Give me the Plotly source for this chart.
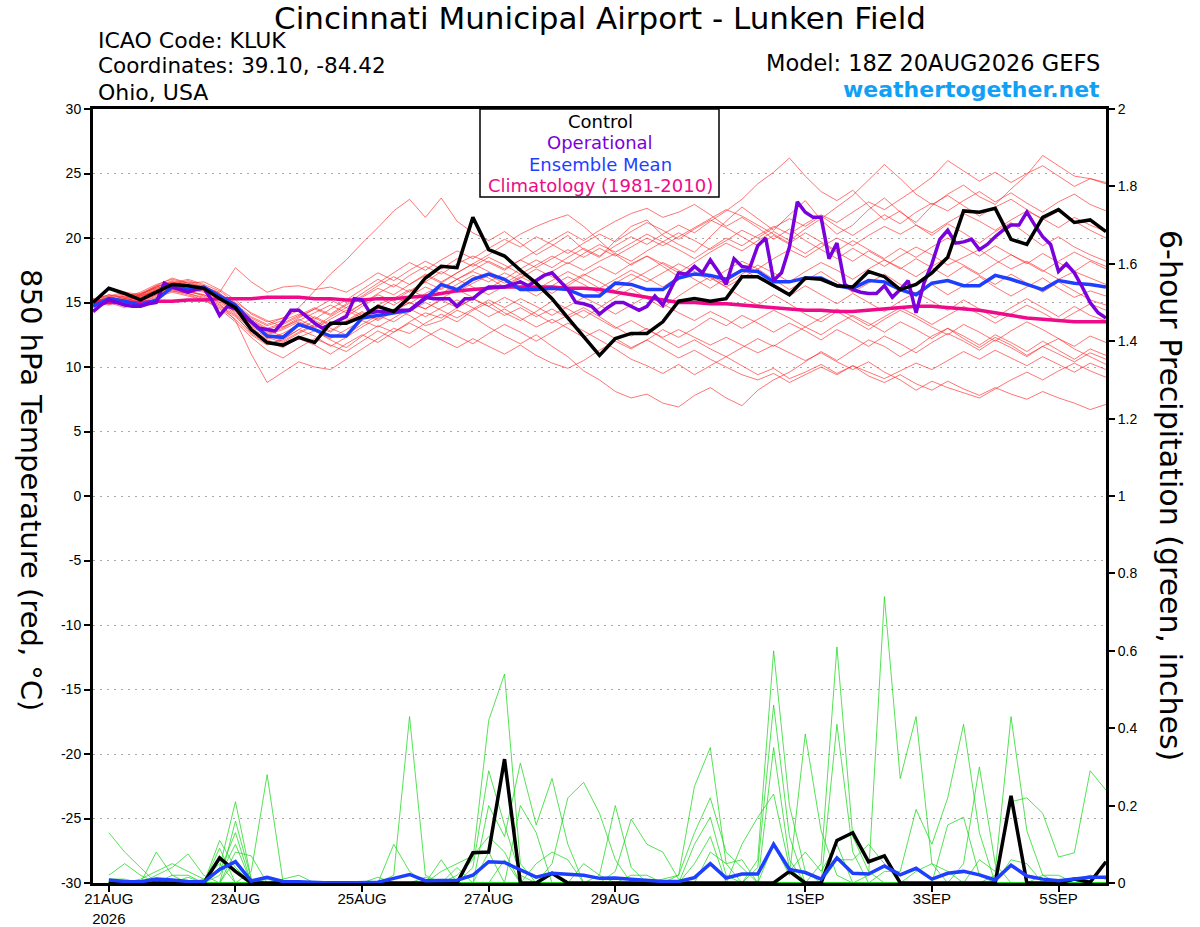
"""GEFS 850 hPa temperature / 6-hour precipitation plume for KLUK."""

import pandas as pd
import plotly.graph_objects as go

RUN_START = "2026-08-20 18:00"

# ---- 850 hPa temperature (degC), 6-hourly from 18Z 20 Aug ----
control_t = [
    15.0, 16.1, 15.7, 15.2, 15.8, 16.4, 16.3, 16.1, 15.3, 14.6,
    12.9, 11.9, 11.7, 12.3, 11.9, 13.4, 13.4, 13.9, 14.7, 14.3,
    15.4, 16.9, 17.8, 17.7, 21.6, 19.1, 18.6, 17.5, 16.5, 15.3,
    13.8, 12.4, 10.9, 12.2, 12.6, 12.6, 13.5, 15.1, 15.3, 15.1,
    15.3, 17.0, 17.0, 16.3, 15.6, 16.9, 16.8, 16.3, 16.2, 17.4,
    17.0, 16.0, 16.4, 17.3, 18.5, 22.1, 22.0, 22.3, 19.9, 19.5,
    21.6, 22.2, 21.2, 21.4, 20.5,
]
mean_t = [
    14.7, 15.3, 15.1, 14.8, 15.2, 16.2, 16.0, 16.2, 15.5, 14.8,
    13.5, 12.4, 12.3, 13.3, 12.9, 12.4, 12.4, 13.8, 14.0, 14.2,
    14.4, 15.3, 16.4, 16.0, 16.8, 17.2, 16.8, 16.0, 16.0, 16.1,
    16.0, 15.5, 15.5, 16.5, 16.4, 16.0, 16.0, 16.9, 17.2, 17.1,
    16.8, 17.5, 17.4, 16.6, 16.6, 16.9, 16.9, 16.3, 16.1, 16.7,
    16.6, 16.0, 15.6, 16.5, 16.7, 16.3, 16.3, 17.1, 16.8, 16.4,
    16.0, 16.7, 16.5, 16.4, 16.2,
]
clim_t = [
    15.0, 15.0, 15.0, 15.0, 15.1, 15.1, 15.2, 15.2, 15.3, 15.3,
    15.3, 15.4, 15.4, 15.4, 15.3, 15.3, 15.2, 15.2, 15.3, 15.3,
    15.4, 15.5, 15.7, 15.9, 16.0, 16.1, 16.2, 16.2, 16.2, 16.2,
    16.1, 16.1, 16.0, 15.8, 15.6, 15.4, 15.2, 15.0, 15.0, 14.9,
    14.9, 14.8, 14.7, 14.6, 14.5, 14.4, 14.4, 14.3, 14.3, 14.4,
    14.5, 14.6, 14.7, 14.7, 14.6, 14.5, 14.4, 14.2, 14.0, 13.8,
    13.7, 13.6, 13.5, 13.5, 13.5,
]
# operational run is 3-hourly
oper_t = [
    14.3, 14.8, 15.2, 15.0, 14.8, 14.7, 14.7, 14.9, 15.0, 16.5,
    16.2, 16.0, 15.8, 16.0, 16.1, 15.2, 14.0, 14.7, 14.5, 14.0,
    13.5, 13.0, 12.9, 12.8, 13.5, 14.4, 14.4, 13.9, 13.4, 13.0,
    13.3, 13.6, 13.9, 15.3, 15.2, 14.2, 14.3, 14.3, 14.3, 14.4,
    14.4, 14.9, 15.4, 15.3, 15.3, 15.3, 14.7, 15.3, 15.3, 15.8,
    16.2, 16.2, 16.2, 16.4, 16.6, 16.3, 16.7, 17.1, 17.3, 16.6,
    16.0, 15.0, 14.9, 14.7, 14.1, 14.6, 15.0, 15.0, 14.7, 14.4,
    14.7, 15.5, 14.8, 16.0, 17.3, 17.2, 17.8, 17.3, 18.3, 17.4,
    16.4, 18.4, 17.8, 17.7, 19.4, 20.0, 16.7, 17.3, 19.3, 22.8,
    22.0, 21.6, 21.6, 18.4, 19.6, 16.4, 16.0, 15.8, 15.7, 15.7,
    16.3, 15.4, 16.0, 16.7, 14.2, 16.5, 18.0, 19.9, 20.6, 19.6,
    19.7, 19.9, 19.1, 19.5, 20.1, 20.6, 21.0, 21.0, 22.0, 21.0,
    20.1, 19.5, 17.4, 18.0, 17.3, 16.2, 15.0, 14.2, 13.8,
]

# ensemble members (red)
t_m01 = [15.2, 15.6, 15.4, 15.8, 16.4, 16.8, 16.5, 16.6, 16.0, 15.2, 14.1, 13.5, 13.8, 14.6, 15.9, 17.2, 18.3, 19.6, 20.8, 22.1, 23.0, 21.6, 23.1, 21.3, 20.4, 19.8, 20.5, 19.6, 18.7, 19.4, 20.2, 19.1, 18.5, 19.8, 20.9, 21.4, 20.2, 19.5, 18.9, 20.1, 21.3, 22.4, 21.5, 20.6, 21.8, 22.9, 21.4, 20.3, 21.0, 22.2, 23.1, 22.0, 21.2, 22.5, 23.4, 24.1, 23.2, 22.6, 23.8, 24.9, 26.4, 25.6, 24.8, 24.6, 24.2]
t_m02 = [15.0, 14.8, 15.3, 15.1, 15.6, 16.0, 15.7, 15.4, 14.8, 14.0, 12.6, 11.8, 12.1, 12.9, 12.4, 11.6, 12.3, 13.1, 13.8, 14.5, 14.0, 13.2, 13.6, 14.4, 13.9, 13.1, 12.4, 11.8, 12.5, 11.6, 10.8, 9.7, 9.0, 8.1, 7.6, 7.9, 7.2, 6.9, 7.8, 8.4, 7.6, 7.0, 8.2, 9.0, 9.6, 10.4, 11.2, 10.5, 11.3, 12.1, 11.6, 10.8, 11.5, 12.4, 13.0, 12.2, 11.5, 12.3, 11.7, 10.9, 11.6, 12.2, 11.4, 10.8, 10.2]
t_m03 = [14.8, 15.2, 15.0, 15.4, 15.9, 16.3, 16.0, 15.8, 15.2, 14.2, 12.9, 12.0, 11.5, 12.3, 12.8, 12.1, 11.5, 12.4, 13.2, 12.7, 13.5, 14.2, 13.8, 14.6, 15.3, 14.7, 15.4, 14.8, 14.1, 13.4, 14.0, 14.6, 13.9, 13.1, 12.4, 13.0, 12.2, 11.5, 12.1, 11.4, 10.8, 10.1, 9.4, 9.9, 9.1, 9.6, 10.2, 9.5, 10.1, 9.3, 8.8, 9.4, 8.7, 8.2, 8.9, 8.3, 7.8, 8.4, 7.9, 7.5, 8.1, 7.6, 7.2, 6.7, 7.1]
t_m04 = [15.3, 15.0, 14.6, 15.2, 15.8, 16.1, 15.9, 15.5, 14.9, 13.6, 11.0, 8.8, 9.6, 10.4, 10.0, 9.8, 10.6, 11.4, 12.2, 13.0, 12.6, 13.4, 14.1, 13.5, 14.4, 15.0, 14.2, 13.6, 14.3, 15.1, 14.5, 13.8, 14.6, 15.4, 16.1, 15.3, 14.6, 15.5, 16.3, 17.0, 16.2, 15.4, 14.8, 15.6, 14.9, 14.1, 13.5, 14.3, 13.6, 12.9, 13.7, 14.4, 13.8, 13.1, 12.5, 13.3, 12.7, 12.0, 12.8, 13.5, 12.9, 12.2, 11.6, 12.4, 11.9]
t_m05 = [15.1, 15.4, 15.2, 15.6, 16.2, 16.6, 16.3, 16.1, 15.6, 14.8, 13.8, 13.2, 13.6, 14.1, 13.7, 14.5, 15.2, 16.0, 16.8, 16.2, 17.1, 17.8, 17.2, 18.0, 18.6, 18.1, 17.5, 18.3, 19.0, 19.8, 20.5, 19.8, 20.6, 21.3, 21.9, 22.3, 21.6, 22.0, 22.6, 21.8, 20.9, 21.6, 20.8, 19.9, 20.7, 19.8, 19.1, 18.4, 19.2, 18.5, 17.8, 18.6, 19.3, 18.7, 17.9, 18.5, 19.1, 18.3, 17.6, 18.2, 17.5, 16.8, 17.4, 16.9, 16.4]
t_m06 = [15.0, 15.3, 15.6, 15.4, 16.0, 16.5, 16.8, 16.4, 15.9, 15.0, 14.2, 13.6, 13.1, 13.8, 14.5, 14.0, 14.8, 15.5, 16.3, 17.0, 16.4, 17.2, 16.6, 17.3, 18.0, 17.4, 16.8, 17.6, 18.3, 17.7, 18.5, 19.2, 18.6, 19.4, 20.1, 19.5, 20.3, 21.0, 20.4, 21.3, 22.1, 23.0, 24.2, 25.1, 26.2, 24.8, 23.6, 22.9, 23.7, 22.5, 21.4, 22.1, 21.0, 20.2, 21.1, 20.4, 19.6, 20.5, 21.2, 20.3, 19.4, 20.1, 19.3, 18.7, 18.2]
t_m07 = [14.9, 15.1, 15.5, 15.3, 15.7, 16.2, 16.0, 16.3, 15.7, 14.6, 13.5, 12.8, 12.4, 13.2, 13.9, 13.3, 14.1, 14.9, 15.6, 15.1, 15.9, 16.6, 16.0, 16.8, 17.4, 16.9, 16.2, 16.9, 17.6, 17.0, 16.3, 17.1, 17.8, 17.2, 18.0, 18.6, 18.0, 17.3, 18.1, 18.9, 19.6, 19.0, 19.8, 20.5, 19.8, 20.7, 21.5, 22.4, 23.3, 24.5, 25.7, 24.6, 23.4, 22.6, 23.3, 22.5, 21.7, 22.4, 23.0, 22.2, 21.4, 22.1, 21.3, 20.6, 20.0]
t_m08 = [15.2, 15.5, 15.1, 15.5, 16.1, 16.4, 16.1, 15.9, 15.3, 14.4, 13.2, 12.6, 13.0, 13.7, 13.1, 13.9, 14.6, 14.0, 14.8, 15.4, 14.9, 15.7, 16.3, 15.8, 16.5, 17.1, 16.5, 17.2, 16.6, 17.4, 18.1, 17.5, 18.2, 18.8, 18.2, 19.0, 19.7, 19.1, 18.4, 19.2, 20.0, 19.4, 20.2, 20.9, 20.3, 21.1, 21.8, 21.2, 22.0, 22.8, 22.2, 23.0, 23.8, 24.7, 26.0, 25.2, 24.4, 25.1, 24.3, 25.0, 25.6, 24.8, 24.0, 24.6, 24.3]
t_m09 = [15.0, 15.4, 15.7, 15.5, 15.9, 16.4, 16.2, 16.0, 15.5, 14.7, 13.6, 12.9, 13.3, 13.9, 14.5, 15.2, 14.6, 15.4, 16.1, 15.6, 16.4, 17.1, 16.5, 17.3, 18.0, 18.7, 19.5, 20.3, 20.9, 21.4, 21.8, 20.9, 19.8, 18.7, 17.9, 18.6, 17.8, 17.0, 17.7, 16.9, 16.2, 16.9, 17.6, 16.8, 16.0, 16.7, 17.4, 16.6, 15.8, 16.5, 17.2, 16.4, 15.7, 16.4, 15.6, 16.3, 17.0, 16.2, 15.5, 16.2, 16.9, 16.1, 15.4, 15.9, 15.5]
t_m10 = [15.1, 14.9, 15.2, 15.0, 15.5, 15.9, 15.7, 15.3, 14.7, 13.9, 12.7, 12.1, 11.6, 12.2, 11.7, 11.0, 11.8, 12.5, 11.9, 12.7, 13.4, 12.8, 12.1, 11.5, 12.2, 11.6, 11.0, 11.7, 10.9, 10.3, 9.9, 10.5, 11.3, 12.0, 11.4, 12.1, 12.9, 12.3, 13.0, 13.8, 13.2, 14.0, 13.4, 12.7, 13.4, 12.8, 12.1, 12.9, 12.3, 11.6, 12.4, 11.8, 11.1, 11.9, 12.6, 12.0, 11.3, 12.1, 11.5, 10.8, 11.6, 11.0, 10.4, 11.1, 10.6]
t_m11 = [14.9, 15.2, 14.9, 15.3, 15.9, 16.2, 15.8, 15.6, 15.0, 14.1, 12.8, 12.2, 12.6, 13.3, 12.8, 12.2, 12.9, 13.6, 13.1, 13.8, 14.5, 13.9, 14.6, 15.2, 14.6, 13.9, 14.5, 13.8, 13.1, 13.7, 13.0, 12.3, 12.9, 12.2, 11.5, 12.1, 11.4, 10.7, 11.3, 10.6, 10.0, 9.4, 9.0, 9.5, 8.8, 9.4, 10.0, 9.4, 10.1, 9.6, 9.1, 9.7, 10.3, 9.8, 10.5, 11.2, 10.6, 11.3, 10.7, 10.1, 10.8, 10.2, 9.6, 10.3, 9.8]
t_m12 = [15.2, 15.0, 15.4, 15.2, 15.7, 16.0, 15.9, 15.6, 15.1, 14.3, 13.1, 12.5, 12.0, 12.7, 13.3, 12.8, 13.6, 14.3, 13.7, 14.4, 15.0, 14.5, 15.2, 14.6, 15.3, 14.7, 14.0, 14.6, 13.9, 14.5, 13.8, 14.4, 13.7, 13.0, 13.6, 12.9, 12.3, 12.9, 12.3, 11.7, 12.3, 11.7, 11.1, 11.7, 11.1, 10.5, 11.1, 10.4, 9.8, 10.4, 9.6, 9.0, 8.2, 8.9, 8.4, 8.0, 7.6, 8.3, 9.0, 9.6, 9.0, 9.7, 10.3, 9.7, 9.2]
t_m13 = [15.1, 15.3, 15.0, 15.6, 16.3, 16.9, 16.5, 16.2, 15.8, 17.7, 16.6, 15.8, 16.2, 16.3, 16.0, 16.2, 15.8, 16.5, 17.3, 16.7, 17.5, 18.2, 17.6, 18.4, 17.8, 18.5, 17.9, 17.2, 17.9, 18.6, 18.0, 18.8, 19.5, 18.9, 19.6, 20.3, 19.7, 20.4, 19.8, 19.1, 19.8, 20.6, 20.0, 20.8, 21.5, 20.9, 21.7, 20.9, 20.2, 21.0, 21.8, 21.1, 22.0, 22.7, 22.1, 22.9, 23.6, 22.8, 23.5, 22.7, 22.0, 22.8, 23.4, 22.6, 22.1]
t_m14 = [15.0, 15.2, 15.5, 15.7, 16.1, 16.4, 16.7, 16.3, 15.6, 14.9, 13.9, 13.3, 13.8, 14.4, 13.8, 13.2, 13.9, 14.7, 15.4, 14.8, 15.5, 16.2, 15.7, 16.4, 17.1, 16.6, 17.3, 16.7, 16.0, 16.7, 17.4, 16.8, 16.1, 16.8, 17.5, 16.9, 16.2, 17.0, 17.7, 17.1, 16.4, 17.2, 17.9, 17.3, 16.6, 17.4, 18.1, 17.5, 16.8, 17.6, 18.3, 17.7, 17.0, 17.8, 18.5, 17.9, 17.2, 18.0, 18.7, 18.1, 17.4, 18.2, 18.9, 18.3, 17.8]
t_m15 = [15.3, 15.1, 14.8, 15.1, 15.6, 15.9, 15.6, 15.2, 14.6, 13.7, 12.5, 11.7, 12.2, 12.9, 13.6, 13.0, 12.5, 13.3, 14.0, 13.5, 14.3, 15.0, 14.4, 13.8, 14.5, 15.2, 14.6, 15.3, 14.7, 14.0, 14.7, 15.4, 14.8, 14.1, 14.8, 15.5, 14.9, 14.2, 13.6, 14.3, 13.7, 13.0, 13.7, 14.4, 13.8, 13.1, 13.8, 14.5, 13.9, 13.2, 13.9, 14.6, 14.0, 13.3, 14.0, 14.7, 14.1, 13.4, 14.1, 14.8, 14.2, 13.5, 14.2, 14.9, 14.4]
t_m16 = [15.0, 15.5, 15.8, 15.6, 16.2, 16.7, 16.4, 16.2, 15.7, 14.9, 13.7, 13.0, 13.4, 14.0, 14.6, 14.1, 14.9, 15.7, 16.5, 17.3, 18.1, 17.5, 18.3, 19.0, 18.4, 19.2, 19.9, 19.3, 20.1, 19.5, 18.8, 19.6, 20.3, 19.7, 20.5, 21.2, 20.6, 19.9, 20.7, 21.4, 20.8, 20.1, 19.4, 20.2, 19.5, 18.8, 19.6, 18.9, 18.2, 19.0, 18.3, 17.6, 18.4, 17.7, 17.0, 17.8, 17.1, 16.4, 17.2, 16.5, 15.8, 16.6, 15.9, 15.2, 14.8]
t_m17 = [14.8, 15.0, 15.3, 15.0, 15.4, 15.8, 15.5, 15.2, 14.5, 13.5, 12.3, 11.3, 10.7, 11.5, 12.2, 11.7, 11.2, 12.0, 12.8, 12.2, 11.5, 12.3, 13.0, 12.4, 11.8, 12.6, 13.3, 12.7, 12.0, 12.7, 13.4, 12.8, 12.1, 11.4, 10.6, 10.1, 9.5, 10.2, 9.4, 10.1, 10.8, 11.5, 12.2, 11.6, 12.4, 13.1, 12.5, 13.3, 14.0, 13.4, 12.7, 13.5, 12.9, 12.2, 13.0, 12.4, 11.7, 12.5, 11.9, 11.2, 12.0, 11.3, 10.6, 11.4, 10.9]
t_m18 = [15.2, 15.6, 15.3, 15.7, 16.3, 16.5, 16.2, 16.0, 15.4, 14.5, 13.4, 12.7, 13.1, 13.6, 14.2, 14.8, 14.2, 14.9, 15.7, 16.4, 15.8, 16.6, 17.4, 16.8, 17.5, 18.2, 17.6, 18.3, 17.7, 18.4, 19.1, 18.5, 19.2, 18.6, 19.3, 20.0, 19.4, 20.1, 20.8, 21.5, 22.2, 21.7, 21.0, 20.3, 19.6, 20.4, 19.7, 19.0, 19.8, 19.1, 18.4, 19.2, 18.5, 19.3, 20.0, 19.3, 18.6, 19.4, 18.7, 18.0, 18.8, 18.1, 17.4, 18.2, 17.6]
t_m19 = [15.0, 15.3, 15.1, 15.5, 16.0, 16.3, 16.6, 16.2, 15.5, 14.6, 13.3, 12.5, 12.9, 13.5, 13.0, 13.7, 14.4, 13.8, 14.5, 15.3, 16.0, 15.4, 16.1, 16.8, 16.2, 15.6, 16.3, 17.0, 16.4, 15.7, 16.5, 17.2, 16.6, 15.9, 16.7, 17.4, 18.1, 17.5, 16.8, 16.1, 16.9, 17.6, 16.9, 16.2, 15.5, 16.3, 15.6, 14.9, 15.7, 15.0, 14.3, 15.1, 15.8, 15.1, 14.4, 15.2, 14.5, 13.8, 14.6, 15.3, 14.6, 13.9, 14.7, 14.0, 13.6]
t_m20 = [15.1, 14.9, 15.3, 15.6, 16.2, 16.6, 16.3, 16.1, 15.4, 14.4, 13.0, 12.3, 11.9, 12.6, 13.2, 12.7, 13.5, 14.2, 13.6, 14.3, 15.0, 14.5, 15.3, 16.0, 15.4, 16.1, 16.8, 16.2, 15.5, 16.3, 17.0, 16.4, 15.7, 16.5, 17.2, 16.6, 17.3, 18.0, 17.4, 16.7, 17.5, 18.2, 17.6, 18.4, 19.1, 18.5, 19.3, 20.0, 19.4, 20.2, 20.9, 20.3, 21.0, 20.4, 21.2, 21.9, 21.3, 20.6, 21.4, 22.1, 21.5, 20.8, 21.6, 21.0, 20.5]

temp_members = [t_m01, t_m02, t_m03, t_m04, t_m05, t_m06, t_m07, t_m08, t_m09, t_m10,
                t_m11, t_m12, t_m13, t_m14, t_m15, t_m16, t_m17, t_m18, t_m19, t_m20]

# ---- 6-hour precipitation (inches), valid 00Z 21 Aug onward ----
control_p = [
    0, 0, 0, 0, 0, 0, 0, 0.065, 0.03, 0, 0, 0, 0, 0, 0, 0,
    0, 0, 0, 0, 0, 0, 0, 0.078, 0.08, 0.32, 0, 0, 0.025, 0, 0, 0,
    0, 0, 0, 0, 0, 0, 0, 0, 0, 0, 0, 0.03, 0, 0, 0.11, 0.13,
    0.055, 0.07, 0, 0, 0, 0, 0, 0, 0, 0.225, 0, 0, 0, 0.01, 0.002, 0.055,
]
mean_p = [
    0.008, 0.004, 0.003, 0.01, 0.008, 0.004, 0.003, 0.035, 0.055, 0.005, 0.015, 0.004, 0.003, 0.001, 0, 0,
    0.001, 0.002, 0.012, 0.022, 0.006, 0.007, 0.007, 0.02, 0.055, 0.053, 0.035, 0.015, 0.025, 0.022, 0.02, 0.012,
    0.013, 0.01, 0.006, 0.004, 0.004, 0.014, 0.05, 0.013, 0.023, 0.023, 0.1, 0.035, 0.027, 0.01, 0.065, 0.025,
    0.023, 0.044, 0.021, 0.038, 0.01, 0.025, 0.03, 0.021, 0.008, 0.046, 0.018, 0.01, 0.006, 0.01, 0.015, 0.015,
]

p_m01 = [0.13, 0.08, 0.04, 0, 0, 0, 0, 0.11, 0.04, 0, 0, 0, 0, 0, 0, 0,
         0, 0, 0, 0, 0, 0, 0, 0, 0, 0.06, 0, 0, 0, 0, 0, 0,
         0, 0, 0, 0, 0, 0, 0, 0, 0, 0, 0, 0, 0, 0, 0, 0,
         0.02, 0.74, 0.27, 0.43, 0.05, 0, 0, 0, 0, 0, 0, 0, 0, 0, 0, 0]
p_m02 = [0.02, 0.05, 0.02, 0, 0, 0, 0, 0.09, 0, 0, 0, 0, 0, 0, 0, 0,
         0, 0, 0, 0, 0, 0, 0, 0, 0, 0, 0, 0.05, 0.08, 0.06, 0, 0,
         0, 0, 0, 0, 0, 0, 0, 0, 0, 0, 0, 0, 0, 0, 0, 0,
         0, 0.03, 0.03, 0.19, 0.10, 0.22, 0.41, 0.13, 0, 0, 0, 0, 0, 0, 0, 0]
p_m03 = [0.01, 0.01, 0, 0, 0, 0, 0, 0.07, 0.03, 0, 0, 0, 0, 0, 0, 0,
         0, 0, 0, 0, 0, 0, 0, 0, 0, 0, 0, 0, 0.05, 0.22, 0.26, 0.18,
         0.06, 0, 0, 0, 0, 0, 0, 0, 0, 0, 0, 0, 0, 0, 0, 0,
         0, 0, 0, 0.03, 0.05, 0.03, 0, 0, 0, 0, 0, 0, 0, 0, 0, 0]
p_m04 = [0, 0, 0.01, 0.03, 0.05, 0.03, 0.01, 0.05, 0, 0, 0, 0, 0, 0, 0, 0,
         0, 0, 0, 0, 0, 0, 0, 0, 0, 0, 0, 0, 0, 0, 0.05, 0.02,
         0, 0, 0, 0, 0, 0, 0, 0, 0, 0, 0, 0, 0, 0, 0, 0,
         0, 0, 0, 0, 0, 0.15, 0.17, 0.02, 0, 0, 0, 0, 0, 0, 0, 0]
p_m05 = [0, 0, 0, 0.08, 0.02, 0, 0, 0.04, 0.21, 0.01, 0, 0, 0, 0, 0, 0,
         0, 0, 0, 0, 0, 0, 0, 0, 0, 0, 0, 0, 0, 0, 0, 0.02,
         0.20, 0.04, 0, 0, 0, 0, 0, 0, 0, 0, 0, 0, 0, 0, 0, 0,
         0, 0, 0, 0, 0, 0, 0.05, 0.30, 0.05, 0, 0, 0, 0, 0, 0, 0]
p_m06 = [0, 0, 0, 0.02, 0.04, 0.075, 0.02, 0, 0.16, 0.01, 0, 0, 0, 0, 0, 0,
         0, 0, 0, 0, 0, 0, 0, 0, 0, 0, 0, 0, 0, 0, 0, 0,
         0.03, 0.165, 0.10, 0.08, 0.01, 0, 0, 0, 0, 0, 0, 0, 0, 0, 0, 0,
         0, 0, 0, 0, 0, 0, 0, 0.06, 0.03, 0.43, 0.135, 0.02, 0, 0, 0, 0]
p_m07 = [0, 0, 0, 0.01, 0, 0, 0.01, 0.03, 0.13, 0, 0, 0, 0, 0, 0, 0,
         0, 0, 0, 0, 0, 0, 0, 0, 0, 0, 0, 0, 0, 0, 0, 0,
         0, 0.02, 0.02, 0, 0.02, 0.25, 0.35, 0.05, 0, 0, 0, 0, 0, 0, 0, 0,
         0, 0, 0, 0, 0, 0, 0, 0, 0.02, 0.21, 0.22, 0.18, 0.067, 0.078, 0.29, 0.24]
p_m08 = [0, 0, 0, 0, 0.02, 0.02, 0, 0.02, 0.10, 0, 0, 0, 0, 0, 0, 0,
         0, 0, 0, 0, 0, 0, 0, 0, 0, 0, 0, 0, 0, 0, 0, 0,
         0, 0, 0, 0.01, 0.02, 0.13, 0.22, 0.08, 0.04, 0, 0, 0, 0, 0, 0, 0,
         0, 0, 0, 0, 0, 0, 0, 0, 0, 0.06, 0.05, 0, 0, 0, 0, 0]
p_m09 = [0, 0, 0, 0, 0, 0.015, 0, 0, 0.08, 0.07, 0, 0, 0, 0, 0, 0,
         0, 0, 0, 0, 0, 0, 0, 0, 0, 0, 0, 0, 0, 0, 0, 0,
         0, 0, 0, 0, 0, 0.10, 0.17, 0.02, 0, 0, 0, 0, 0, 0, 0, 0,
         0, 0, 0, 0, 0, 0, 0, 0, 0, 0, 0, 0.02, 0.02, 0, 0, 0]
p_m10 = [0, 0, 0, 0, 0, 0, 0, 0, 0.06, 0, 0.01, 0, 0, 0, 0, 0,
         0, 0, 0, 0, 0, 0, 0, 0, 0, 0, 0, 0, 0, 0, 0, 0,
         0, 0, 0, 0, 0, 0.05, 0.12, 0, 0, 0, 0, 0, 0, 0, 0, 0,
         0, 0, 0, 0, 0, 0, 0, 0, 0, 0, 0, 0, 0, 0.01, 0.02, 0.01]
p_m11 = [0, 0, 0, 0, 0, 0, 0, 0, 0, 0.03, 0.28, 0.005, 0, 0, 0, 0,
         0, 0, 0, 0, 0, 0, 0, 0, 0, 0, 0, 0, 0, 0, 0, 0,
         0, 0, 0, 0, 0, 0, 0.08, 0.05, 0.06, 0, 0, 0, 0, 0, 0, 0,
         0, 0, 0, 0, 0, 0, 0, 0, 0, 0, 0, 0, 0, 0, 0.02, 0.01]
p_m12 = [0, 0, 0, 0, 0, 0, 0, 0, 0, 0, 0, 0.01, 0.02, 0, 0, 0,
         0, 0, 0, 0, 0, 0, 0, 0, 0, 0, 0, 0, 0, 0, 0, 0,
         0, 0, 0, 0, 0, 0, 0, 0, 0.10, 0.17, 0.23, 0.04, 0, 0, 0, 0,
         0, 0, 0, 0, 0, 0, 0, 0, 0, 0, 0, 0, 0, 0, 0, 0]
p_m13 = [0, 0, 0, 0, 0, 0, 0, 0, 0, 0, 0, 0, 0, 0, 0, 0,
         0, 0.015, 0, 0, 0.015, 0, 0, 0, 0, 0, 0, 0, 0, 0, 0, 0,
         0, 0, 0, 0, 0, 0, 0, 0, 0, 0.06, 0.60, 0.20, 0.03, 0, 0, 0,
         0, 0, 0, 0, 0, 0, 0, 0, 0, 0, 0, 0, 0, 0, 0, 0]
p_m14 = [0, 0, 0, 0, 0, 0, 0, 0, 0, 0, 0, 0, 0, 0, 0, 0,
         0, 0, 0.10, 0.03, 0, 0.06, 0, 0, 0, 0, 0, 0, 0, 0, 0, 0,
         0, 0, 0, 0, 0, 0, 0, 0, 0, 0.04, 0.46, 0.12, 0, 0, 0, 0,
         0, 0, 0, 0, 0, 0, 0, 0, 0, 0, 0, 0, 0, 0, 0, 0]
p_m15 = [0, 0, 0, 0, 0, 0, 0, 0, 0, 0, 0, 0, 0, 0, 0, 0,
         0, 0, 0.02, 0.43, 0.02, 0, 0.04, 0, 0, 0, 0, 0, 0, 0, 0, 0,
         0, 0, 0, 0, 0, 0, 0, 0, 0, 0, 0.35, 0.06, 0, 0, 0, 0,
         0, 0, 0, 0, 0, 0, 0, 0, 0, 0, 0, 0, 0, 0, 0, 0]
p_m16 = [0, 0, 0, 0, 0, 0, 0, 0, 0, 0, 0, 0, 0, 0, 0, 0,
         0, 0, 0, 0, 0, 0.03, 0.05, 0.07, 0.12, 0.08, 0, 0, 0, 0, 0, 0,
         0, 0, 0, 0, 0, 0, 0, 0, 0, 0, 0.10, 0.02, 0.385, 0.135, 0.02, 0,
         0, 0, 0, 0, 0, 0, 0, 0, 0, 0, 0, 0, 0, 0, 0, 0]
p_m17 = [0, 0, 0, 0, 0, 0, 0, 0, 0, 0, 0, 0, 0, 0, 0, 0,
         0, 0, 0, 0, 0, 0, 0.02, 0.06, 0.42, 0.54, 0.05, 0, 0, 0, 0, 0,
         0, 0, 0, 0, 0, 0, 0, 0, 0, 0, 0, 0.03, 0.08, 0.03, 0.10, 0,
         0, 0, 0, 0, 0, 0, 0, 0, 0, 0, 0, 0, 0, 0, 0, 0]
p_m18 = [0, 0, 0, 0, 0, 0, 0, 0, 0, 0, 0, 0, 0, 0, 0, 0,
         0, 0, 0, 0, 0, 0, 0, 0.04, 0.29, 0.15, 0.02, 0, 0, 0, 0, 0,
         0, 0, 0, 0, 0, 0, 0, 0, 0, 0, 0, 0, 0, 0.05, 0.61, 0.12,
         0.03, 0, 0, 0, 0, 0, 0, 0, 0, 0, 0, 0, 0, 0, 0, 0]
p_m19 = [0, 0, 0, 0, 0, 0, 0, 0, 0, 0, 0, 0, 0, 0, 0, 0,
         0, 0, 0, 0, 0, 0, 0, 0, 0.20, 0.12, 0.31, 0.15, 0.27, 0.10, 0, 0,
         0, 0, 0, 0, 0, 0, 0, 0, 0, 0, 0, 0, 0, 0, 0.41, 0.08,
         0, 0, 0, 0, 0, 0, 0, 0, 0, 0, 0, 0, 0, 0, 0, 0]
p_m20 = [0, 0, 0, 0, 0, 0, 0, 0, 0, 0, 0, 0, 0, 0, 0, 0,
         0, 0, 0, 0, 0, 0, 0, 0, 0.08, 0, 0.20, 0.13, 0, 0, 0, 0,
         0, 0, 0, 0, 0, 0, 0, 0, 0, 0, 0, 0, 0, 0, 0.06, 0.06,
         0.10, 0.05, 0, 0, 0, 0, 0, 0, 0, 0, 0, 0, 0, 0, 0, 0]

precip_members = [p_m01, p_m02, p_m03, p_m04, p_m05, p_m06, p_m07, p_m08, p_m09, p_m10,
                  p_m11, p_m12, p_m13, p_m14, p_m15, p_m16, p_m17, p_m18, p_m19, p_m20]

# axis labels
date_ticks = ["2026-08-21", "2026-08-23", "2026-08-25", "2026-08-27",
              "2026-08-29", "2026-09-01", "2026-09-03", "2026-09-05"]
date_labels = ["21AUG<br>2026", "23AUG", "25AUG", "27AUG", "29AUG", "1SEP", "3SEP", "5SEP"]
temp_ticks = [-30, -25, -20, -15, -10, -5, 0, 5, 10, 15, 20, 25, 30]

legend_items = [("Control", "#000000"), ("Operational", "#7a00dc"),
                ("Ensemble Mean", "#1f3fff"), ("Climatology (1981-2010)", "#ee0a88")]

TICK_FONT = "Liberation Sans, Arial, Helvetica, sans-serif"
TEXT_FONT = "DejaVu Sans, Liberation Sans, sans-serif"
W, H = 1200, 927
L, R, T, B = 93, 94, 109, 44


def px(x):
    """pixel column -> paper x"""
    return (x - L) / (W - L - R)


def py(y):
    """pixel row -> paper y"""
    return (H - B - y) / (H - T - B)


t6 = pd.date_range(RUN_START, periods=len(control_t), freq="6h")
t3 = pd.date_range(RUN_START, periods=len(oper_t), freq="3h")
p6 = pd.date_range("2026-08-21 00:00", periods=len(control_p), freq="6h")

fig = go.Figure()

for m in temp_members:
    fig.add_trace(go.Scatter(x=t6[:len(m)], y=m, mode="lines",
                             line=dict(color="rgba(255,40,40,0.8)", width=0.8),
                             hoverinfo="skip", showlegend=False))

fig.add_trace(go.Scatter(x=t6, y=clim_t, mode="lines",
                         line=dict(color="#ee0a88", width=3.5), showlegend=False))
fig.add_trace(go.Scatter(x=t6, y=mean_t, mode="lines",
                         line=dict(color="#1f3fff", width=3.5), showlegend=False))
fig.add_trace(go.Scatter(x=t3, y=oper_t, mode="lines",
                         line=dict(color="#7a00dc", width=3.5), showlegend=False))
fig.add_trace(go.Scatter(x=t6, y=control_t, mode="lines",
                         line=dict(color="#000000", width=3.5), showlegend=False))

for m in precip_members:
    fig.add_trace(go.Scatter(x=p6[:len(m)], y=m, mode="lines", yaxis="y2",
                             line=dict(color="rgba(30,215,30,0.95)", width=0.8),
                             hoverinfo="skip", showlegend=False))

fig.add_trace(go.Scatter(x=p6, y=control_p, mode="lines", yaxis="y2",
                         line=dict(color="#000000", width=3.5), showlegend=False))
fig.add_trace(go.Scatter(x=p6, y=mean_p, mode="lines", yaxis="y2",
                         line=dict(color="#1f3fff", width=3.5), showlegend=False))

axis_font = dict(family=TICK_FONT, size=14, color="black")

fig.update_layout(
    width=W, height=H, autosize=False,
    margin=dict(l=L, r=R, t=T, b=B, pad=0),
    paper_bgcolor="white", plot_bgcolor="white",
    hovermode=False, showlegend=False,
    font=dict(family=TEXT_FONT, color="black"),
    xaxis=dict(
        type="date", range=[t6[0], t6[-1]], automargin=False,
        tickvals=date_ticks, ticktext=date_labels,
        tickfont=dict(family=TICK_FONT, size=15, color="black"),
        ticks="outside", ticklen=6, tickwidth=1.5, tickcolor="black",
        ticklabelstandoff=-6,
        showline=True, linewidth=3, linecolor="black", mirror=True,
        showgrid=False, zeroline=False,
    ),
    yaxis=dict(
        range=[-30, 30], automargin=False,
        tickvals=temp_ticks, ticktext=[str(v) for v in temp_ticks],
        tickfont=axis_font,
        ticks="outside", ticklen=6, tickwidth=1.5, tickcolor="black",
        showline=True, linewidth=3, linecolor="black",
        showgrid=True, gridcolor="#aaaaaa", gridwidth=1, griddash="2px,5px",
        zeroline=False,
    ),
    yaxis2=dict(
        overlaying="y", side="right", range=[0, 2], dtick=0.2, automargin=False,
        tickfont=axis_font,
        ticks="outside", ticklen=6, tickwidth=1.5, tickcolor="black",
        showline=True, linewidth=3, linecolor="black",
        showgrid=False, zeroline=False,
    ),
)

# legend box sits on the top frame
fig.add_shape(type="rect", xref="paper", yref="paper",
              x0=px(480), x1=px(719), y0=py(197), y1=1,
              line=dict(color="black", width=1.5), fillcolor="white", layer="above")

annotations = []
for n, (label, color) in enumerate(legend_items):
    annotations.append(dict(
        text=label, xref="paper", yref="paper", x=px(600), y=py(121 + 21.5 * n),
        xanchor="center", yanchor="middle", showarrow=False,
        font=dict(family=TEXT_FONT, size=18, color=color)))

annotations += [
    dict(text="Cincinnati Municipal Airport - Lunken Field", x=px(600), y=py(18),
         font=dict(family=TEXT_FONT, size=31, color="black"), xanchor="center"),
    dict(text="ICAO Code: KLUK", x=px(96), y=py(40),
         font=dict(family=TEXT_FONT, size=22, color="black"), xanchor="left"),
    dict(text="Coordinates: 39.10, -84.42", x=px(96), y=py(66),
         font=dict(family=TEXT_FONT, size=21.5, color="black"), xanchor="left"),
    dict(text="Ohio, USA", x=px(96), y=py(92),
         font=dict(family=TEXT_FONT, size=22, color="black"), xanchor="left"),
    dict(text="Model: 18Z 20AUG2026 GEFS", x=px(1102), y=py(63),
         font=dict(family=TEXT_FONT, size=22.5, color="black"), xanchor="right"),
    dict(text="<b>weathertogether.net</b>", x=px(1102), y=py(89),
         font=dict(family=TEXT_FONT, size=22, color="#12a0f5"), xanchor="right"),
    dict(text="850 hPa Temperature (red, °C)", x=px(31), y=py(490), textangle=90,
         font=dict(family=TEXT_FONT, size=29, color="black"), xanchor="center"),
    dict(text="6-hour Precipitation (green, inches)", x=px(1170), y=py(495), textangle=90,
         font=dict(family=TEXT_FONT, size=30, color="black"), xanchor="center"),
]
for a in annotations[len(legend_items):]:
    a.update(xref="paper", yref="paper", yanchor="middle", showarrow=False)

fig.update_layout(annotations=annotations)

fig.write_html("out.html", config={"displayModeBar": False},
               post_script="document.body.style.margin='0px';")
